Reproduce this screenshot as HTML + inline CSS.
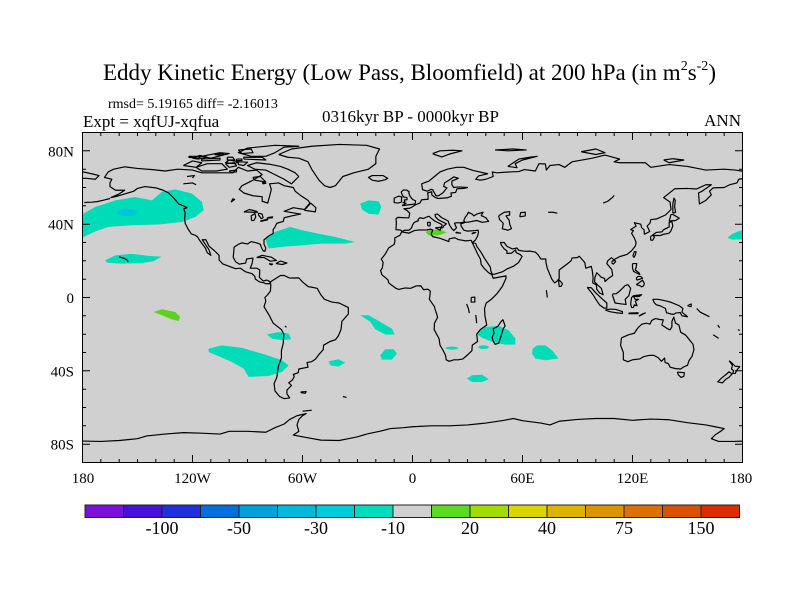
<!DOCTYPE html>
<html><head><meta charset="utf-8"><style>
html,body{margin:0;padding:0;background:#fff;}
svg{display:block;}
text{font-family:"Liberation Serif",serif;fill:#000;}
</style></head><body>
<svg width="800" height="600" viewBox="0 0 800 600" xmlns="http://www.w3.org/2000/svg">
<rect width="800" height="600" fill="#fff"/>
<defs><clipPath id="mc"><rect x="82.5" y="132.5" width="660" height="330"/></clipPath></defs>

<!-- Titles -->
<text x="103" y="80" font-size="23">Eddy Kinetic Energy (Low Pass, Bloomfield) at 200 hPa (in m<tspan dy="-10" font-size="14">2</tspan><tspan dy="10" font-size="23">s</tspan><tspan dy="-10" font-size="14">-2</tspan><tspan dy="10" font-size="23">)</tspan></text>
<text x="108" y="108" font-size="14">rmsd= 5.19165 diff= -2.16013</text>
<text x="83" y="127" font-size="17">Expt = xqfUJ-xqfua</text>
<text x="322" y="122" font-size="17">0316kyr BP - 0000kyr BP</text>
<text x="741" y="126" font-size="17" text-anchor="end">ANN</text>

<!-- Map -->
<rect x="82.5" y="132.5" width="660" height="330" fill="#d0d0d0"/>
<g clip-path="url(#mc)">
<g transform="translate(412.5,297.5) scale(1.83333,-1.83333)">
<!-- patches -->
<g fill="#00dcb8" stroke="none">
<polygon points="-182,46 -179.4,45.8 -173,49.4 -162.1,53 -151.2,54.8 -142.1,53 -136.7,57.6 -129.4,59 -120.3,56.7 -114.8,52.1 -113.9,47.6 -118.5,43.9 -125.8,41.2 -138.5,39.8 -153,39.4 -165.8,38.5 -173,36.1 -179.4,33 -182,32.5"/>
<polygon points="171.8,32.5 174.5,34.8 178,36.2 182,37 182,31.8 174.5,31.6"/>
<polygon points="-167.6,20.3 -162.1,23 -153,23.8 -143.9,22.7 -137,22.3 -141.2,19.8 -147.6,18.8 -158.5,18.5 -166.7,19"/>
<polygon points="-80.3,32.1 -74.8,35.8 -66.7,38.5 -60.3,36.7 -53,35.2 -42.1,33 -31.2,30.3 -36.7,29.4 -49.4,29.4 -60.3,28.5 -71.2,27.6 -78.5,26.7"/>
<polygon points="-28.5,51.2 -23.9,53 -18.5,52.5 -17,49.4 -18.5,45.2 -23.9,45.7 -27.6,48.1"/>
<polygon points="-79.4,-20.1 -73,-18.8 -67.6,-19.7 -66.1,-22.8 -71.2,-23.3 -76.7,-22.4"/>
<polygon points="-111.2,-27.9 -104,-26.1 -93,-27.5 -82.1,-30.6 -71.2,-34.2 -67.6,-37 -71.2,-40.6 -78.5,-42.8 -89.4,-43.3 -92.1,-38.8 -98.5,-35.2 -107.6,-31.2 -111.2,-29.7"/>
<polygon points="-45.8,-34.8 -40.3,-33.7 -36.7,-35.5 -40.3,-37.7 -44.8,-37"/>
<polygon points="-28.5,-9.7 -23.9,-9.7 -17.6,-13.3 -11.2,-17 -9.7,-20.2 -14.8,-20.2 -20.3,-17.3 -23,-13.3"/>
<polygon points="-17.6,-31.5 -14.8,-28.2 -10.3,-28.2 -8.5,-30.6 -11.2,-33.9 -16.7,-33.9"/>
<polygon points="36.1,-18.8 39.7,-16.1 47,-15.5 52.5,-17.9 56.1,-22.4 56.1,-25.7 50.6,-25.7 43.4,-24.2 37.9,-21.9 35.2,-20.2"/>
<polygon points="65.5,-27.9 67.9,-26.1 72.5,-26.1 76.1,-28.8 79.7,-33.3 72.5,-34.2 67,-33.3 65.2,-30.6"/>
<polygon points="29.7,-44.2 32.5,-42.4 37.9,-42.1 41.6,-44.6 37.9,-46.1 32.5,-46.1"/>
<ellipse cx="21.5" cy="-27.6" rx="3.5" ry="0.8"/>
<ellipse cx="38.8" cy="-27.1" rx="2.9" ry="1"/>
</g>
<ellipse cx="-155.8" cy="46.3" rx="5.5" ry="1.9" fill="#00c4d8"/>
<g fill="#5ad21e">
<polygon points="-141.2,-7.9 -136.7,-6.4 -129.4,-7.9 -126.7,-10.6 -127.6,-12.8 -131.2,-11.9 -136.7,-9.7"/>
<polygon points="7,35.8 10.6,37.2 16.1,36.7 18.8,35.4 14.3,33.9 8.8,33.9"/>
</g>

<!-- coastlines -->
<g fill="none" stroke="#000" stroke-width="1.2" stroke-linejoin="round">
<polyline vector-effect="non-scaling-stroke" points="-166,68.5 -163,70 -157,71.3 -150,70.4 -141,69.7 -135,69 -128,70 -120,69.5 -115,68 -108,68 -98,68 -95,71 -90,69 -85,69.5 -82,67 -87,64 -93,61 -94.5,59 -92,57 -87,55.5 -82,55 -82,52.5 -79,51.5 -78,55 -77,59 -78,62 -73,62.5 -70,61 -65,60 -64,58 -61.5,56 -57,53 -56,51.5 -59,48 -65,49 -70,47 -64,46 -61,45.5 -66,44.5 -70,43.5 -70.5,41.5 -74,40.5 -75,38.5 -76,37 -76,35 -78,33.8 -81,31.5 -81,29 -80,27 -80.5,25.2 -81.5,25.5 -82.5,27.5 -83,29 -85,29.8 -88,30.5 -90,29.2 -93,29.8 -95,29 -97.3,27.5 -97.5,25 -97.8,22 -96.5,19.5 -94.5,18.2 -91,18.8 -90.5,21 -87,21.5 -87.5,18.5 -88.5,16 -85,16 -83.3,15 -83.5,11 -81.5,9 -79.5,9.5 -77.5,8.5 -78,7.5 -80,7.5 -81,8 -83.5,8.5 -85.7,10 -86,11.5 -87.5,13 -91,14 -94,16 -96.5,15.7 -100,17 -103.5,18.3 -105.5,20.5 -105.5,23 -108,25.5 -111,28 -112.7,31.5 -114.7,31.5 -113,29 -111,26 -110,23 -112,24.5 -113,27 -114.5,29 -116,31 -117.2,33 -118.5,34 -120.6,34.6 -122.5,37.5 -124,40.5 -124.3,43 -124,46 -124.7,48.4 -123,49 -125,50 -127.5,51 -130,54 -133,57 -136,58.5 -140,59.8 -146,60.5 -150,59.5 -152,58 -157,56.5 -162,55 -164.5,54.5 -160,56.5 -157,58.5 -162,58.5 -165,60.5 -165,62.5 -164,64.5 -168,65.5 -166,68.5"/>
<polyline vector-effect="non-scaling-stroke" points="-73,78 -66,81 -55,82.5 -40,83.5 -25,83 -18,81 -20,77 -20,73 -24,70 -32,68 -38,66 -42,61 -45,60 -48,61 -51,64 -53,67 -55,70 -57,74 -62,76 -68,76.5 -73,78"/>
<polyline vector-effect="non-scaling-stroke" points="-62,66 -64,68 -68,70 -72,71.5 -78,72.7 -85,73.5 -90,72 -86,70 -80,69.5 -76,67.5 -73,66 -70,64.5 -66,62 -62,66"/>
<polyline vector-effect="non-scaling-stroke" points="-118,71 -112,73 -104,73 -101,70 -107,69 -115,69 -118,71"/>
<polyline vector-effect="non-scaling-stroke" points="-80,77 -75,79 -70,82 -62,82.5 -75,83 -90,81.5 -95,79 -88,77 -80,77"/>
<polyline vector-effect="non-scaling-stroke" points="-125,72 -120,74.5 -115,73.5 -118,71 -125,72"/>
<polyline vector-effect="non-scaling-stroke" points="-92,75.5 -80,75 -82,76.5 -92,76.5 -92,75.5"/>
<polyline vector-effect="non-scaling-stroke" points="-110,76 -100,78.5 -105,79 -115,77 -110,76"/>
<polyline vector-effect="non-scaling-stroke" points="-100,75 -95,74 -97,73 -102,73.5 -100,75"/>
<polyline vector-effect="non-scaling-stroke" points="-120,76 -116,77.5 -112,76.5 -117,75.5 -120,76"/>
<polyline vector-effect="non-scaling-stroke" points="-115,75.5 -105,76 -105,75 -115,74.5 -115,75.5"/>
<polyline vector-effect="non-scaling-stroke" points="-122,77 -115,77 -117,76 -122,76.5 -122,77"/>
<polyline vector-effect="non-scaling-stroke" points="-101,76.5 -98,76.5 -97,75 -101,75 -101,76.5"/>
<polyline vector-effect="non-scaling-stroke" points="-96,75.5 -93,75.5 -93,74.7 -96,74.7 -96,75.5"/>
<polyline vector-effect="non-scaling-stroke" points="-95,74 -90,73.8 -92,72 -95,72.5 -95,74"/>
<polyline vector-effect="non-scaling-stroke" points="-102,73 -97,73.5 -96,71.8 -100,71 -102,73"/>
<polyline vector-effect="non-scaling-stroke" points="-100,69 -96,69.5 -96,68.5 -99,68.2 -100,69"/>
<polyline vector-effect="non-scaling-stroke" points="-95,80.5 -88,81 -87,79 -93,78.5 -95,80.5"/>
<polyline vector-effect="non-scaling-stroke" points="-108,78 -103,78.5 -104,77.5 -108,78"/>
<polyline vector-effect="non-scaling-stroke" points="-86,64 -80,63 -83,66 -87,65.5 -86,64"/>
<polyline vector-effect="non-scaling-stroke" points="-82,62.8 -80,62.3 -81.5,62 -82,62.8"/>
<polyline vector-effect="non-scaling-stroke" points="-59,47.6 -53,46.7 -52.7,49 -55.5,51.5 -59,47.6"/>
<polyline vector-effect="non-scaling-stroke" points="-85,21.8 -82,23 -77,22 -74.2,20.2 -77.5,19.8 -81,21.8 -85,21.8"/>
<polyline vector-effect="non-scaling-stroke" points="-74.5,18.5 -72,19.9 -68.5,18.8 -71,18 -74.5,18.5"/>
<polyline vector-effect="non-scaling-stroke" points="-78.3,18.4 -76.3,18.2 -77,17.8 -78.3,18.4"/>
<polyline vector-effect="non-scaling-stroke" points="-160,22.2 -157.8,21.5 -156,20.7 -155,19.5"/>
<polyline vector-effect="non-scaling-stroke" points="-179,51.8 -175,52 -172,52.3 -168,53.2 -165,54"/>
<polyline vector-effect="non-scaling-stroke" points="-92,46.7 -89,48 -85,47 -84.5,46.5 -87,46.5 -92,46.7"/>
<polyline vector-effect="non-scaling-stroke" points="-87.8,42 -88,44.5 -86,45.8 -85.5,44 -86.5,42 -87.8,42"/>
<polyline vector-effect="non-scaling-stroke" points="-84,46 -82,45.5 -81.5,43.5 -82.5,43 -84,45 -84,46"/>
<polyline vector-effect="non-scaling-stroke" points="-83,41.7 -79,42.8 -79,42.4 -83,41.4"/>
<polyline vector-effect="non-scaling-stroke" points="-79.5,43.3 -76.5,43.5 -76.3,44 -79,43.6"/>
<polyline vector-effect="non-scaling-stroke" points="-99,52 -97,53.5 -98,53.8 -99,52"/>
<polyline vector-effect="non-scaling-stroke" points="-125,62 -120,62.5 -118,61.5"/>
<polyline vector-effect="non-scaling-stroke" points="-123,66 -119,66.5 -120,65.2"/>
<!-- South America -->
<polyline vector-effect="non-scaling-stroke" points="-77.5,8.5 -76,9.5 -72,12 -70,12 -67,10.6 -62,10.7 -60,8.5 -57,6 -52,5 -50,1.5 -48,-1 -44,-2.5 -40,-3 -35,-5.5 -35,-9 -38.5,-13 -39,-17.5 -40.5,-21 -42,-23 -45,-24 -48.5,-26 -48.7,-28.5 -51,-31 -53,-33.7 -55,-35 -57.5,-35.5 -57,-38 -62,-39 -62.3,-41 -65,-42 -64.5,-43 -65.5,-45 -67.5,-46.5 -66,-48 -68.5,-50.5 -68.5,-52.5 -67,-54.8 -70,-55.2 -72.5,-54 -75,-51 -75.5,-47 -74,-43.5 -73.5,-40 -73,-37 -71.5,-33 -71.5,-29 -70.5,-25 -70.2,-20 -71.5,-17.5 -76,-14 -78,-10 -79.8,-7 -81,-5 -80,-2 -80.5,0 -79,1.5 -77.5,3.5 -77.3,6.5 -77.5,8.5"/>
<polyline vector-effect="non-scaling-stroke" points="-61,-51.5 -58,-51.3 -58.5,-52.2 -60.5,-52 -61,-51.5"/>
<polyline vector-effect="non-scaling-stroke" points="-69.5,-15.5 -68.8,-16.3"/>
<!-- Eurasia -->
<polyline vector-effect="non-scaling-stroke" points="-5.6,36 -6.5,36.8 -9,37 -8.8,41 -9,43 -8,43.7 -2,43.4 -1.5,46 -3,47.5 -4.7,48.4 -1.5,48.7 0,49.5 1.5,50.5 4,51.5 5,53.3 8.5,53.6 8.5,55.5 8.2,57 10.5,57.7 10.5,56 12.5,54.5 14,54 19,54.4 21.2,55.2 21,57 23.5,57.3 24.3,59.3 28,59.5 30,60 25,60.3 22.5,60 21.5,61.5 21.5,63.5 25,65 22.5,65.8 21,64.7 17.5,62.5 17,60.6 18.8,59.8 16.5,57 14.2,55.5 12.8,55.5 11,58.8 10.3,59 8,58 5.5,58.8 5,62 9,63.5 12,66 15,68.5 19,70 24,71 28,71 31,70 33,69.3 41,67.5 36,66.3 34.5,64.5 37,64 40,64.5 44,66 43.5,68.5 46,68 53,68.5 58,68.7 61,69.8 67,69 69,73 72.5,72.8 73,69.5 75,72 80,72.5 83,71 87,74 98,76 105,77.7 113,75.5 110,74 113,73.5 127,73.5 130,71 140,72.5 150,71.5 160,69.5 170,70 176,69.5 181,68.8"/>
<polyline vector-effect="non-scaling-stroke" points="-181,68.8 -175,67.5 -171,66.5 -173,64.5 -178,65 -181,65"/>
<polyline vector-effect="non-scaling-stroke" points="181,65 178,64.5 177,62.5 173,61.5 170,60 164,59.8 162,58 163,56 160,53 156.5,51 156,57 158,58 163,61.5 160,61.5 155,59.2 150,59.5 143,59.3 137,54.5 140.5,52 141,48 138,45 133,42.8 130,42.5 129.5,40.5 128,39 129.4,36 126.5,34.5 126.3,37 125,38 124.5,40 121,40.8 122,39 119,37 120.5,36.5 119.5,35 121,32.5 122,30 121.5,28 119.5,25.5 117,23.5 113,22.3 110.5,21 110,20.5 108.5,21.7 106.5,20 106,18.5 108.7,15.3 109.2,12 107,10.5 105,8.7 104.8,10.4 103,11 100.5,13.5 99.5,11 99.3,8.5 101,6.8 103,5 104,1.5 102,2.5 100.5,4.5 100.3,6.8 98.3,8 98.5,11 98,15 97.5,17 94.5,16 94,19 92.3,21 91,22.5 90,21.8 87,21.5 86.5,20 84,18 82,16.5 80,15 80,10.5 79,9 77.5,8 76,10 74.8,12.8 73.5,16 72.8,19 72.7,21 70,21 68.5,23.3 67,24.8 64,25.3 61.5,25.2 58,25.7 57,27 54.5,26.5 51.5,27.9 50,30 48,30 48.5,28.5 50,26.5 51.5,25.5 51.5,24 54,24.2 56.3,26 56.5,24.5 58.7,23.5 59.8,22.4 57.8,19 55,17 52,15.8 49,14 45,12.8 43.5,12.6 42.7,14.5 42.5,16.5 39.2,21.5 37.5,24.5 35,28 34.5,29.5 32.6,29.9 34.3,31.3 35.5,33.5 36,35.5 35.8,36.7 34,36.5 30,36.2 28,36.7 26.5,39 26.4,40.2 29,41 31,41.2 35,42 38,41 41.5,41.5 40,43.5 37.5,44.7 38.5,46.5 35,45.5 33.5,44.5 32.5,45.5 30.5,46.5 29.7,45 28.6,43.5 28,42 28.5,41.2 26,40.7 24,40.8 22.9,40.5 24,38 22.5,36.5 21.5,37.5 20.2,39.5 19.4,41.8 16,43.5 13.6,45.5 12.3,45.3 12.5,44 14,42.5 16,41.4 18.5,40.2 17,39 16.5,38 15.7,38 16.2,39.5 15.5,40.1 14,40.8 12,41.8 10.5,43 9,44.3 7.5,43.8 6,43.1 4,43.5 3,42.5 3.2,41.9 1,41 0,39.5 -0.3,38.5 -0.8,37.6 -2,36.7 -4.4,36.7 -5.6,36"/>
<!-- Africa -->
<polyline vector-effect="non-scaling-stroke" points="-5.9,35.8 -2,35.1 1,36.5 3,36.8 8,36.9 10,37.3 11,36.8 10.2,34.5 11,33.2 15,32.3 19.8,30.5 20,32 23,32.6 25,31.6 29,30.9 32,31.2 32.6,29.9 33.5,28 35.5,23.8 37,21 37.5,18 39,16 41.5,13.5 43.3,12.5 44,10.5 51,11.8 51,10.5 49,6 46,2 43,-1 40.2,-3 39.3,-6 39.5,-10 40.5,-15 37,-17.5 35,-20 35.5,-24 32.6,-26 32.4,-29 30,-31.3 27.5,-33.5 25,-34 22.5,-34 20,-34.8 18.4,-34 18,-31.5 16.5,-28.5 15,-26 14.5,-22.5 11.8,-17.5 12,-14 13.7,-10.8 13,-8.5 12.2,-6 12,-5 9.2,-1 9.5,1 9.7,3.5 8.5,4.5 6,4.3 4.5,6.4 2,6.3 -1,5 -4,5.2 -7.5,4.4 -9,5 -11.5,6.8 -13,8 -13.3,9.5 -15,11 -16.7,12.4 -17.4,14.7 -16.5,16 -16,19 -17,21 -15,23.5 -13,27 -10,29 -9.6,30.5 -9.7,32.5 -6.8,34 -5.9,35.8"/>
<polyline vector-effect="non-scaling-stroke" points="49.3,-12 50.5,-15.5 49.5,-17 48,-22 47,-25 45,-25.5 43.7,-23 43.5,-21.5 44.5,-19.5 44,-17 46.5,-15.8 48,-13.6 49.3,-12"/>
<polyline vector-effect="non-scaling-stroke" points="32,0 34,0.2 34,-2.5 32,-2.5 32,0"/>
<polyline vector-effect="non-scaling-stroke" points="29.5,-3.5 30.5,-6 31,-8.5"/>
<polyline vector-effect="non-scaling-stroke" points="34.5,-9.5 34.8,-12 35,-14"/>
<!-- seas / lakes -->
<polyline vector-effect="non-scaling-stroke" points="47,44.5 50,46.5 53,46.8 53,45 51,44.5 52.8,42 53,40 54,37.5 52,36.7 49,37.5 49.5,40.5 47.5,42.5 47,44.5"/>
<polyline vector-effect="non-scaling-stroke" points="58.5,44 61.5,44.5 61.5,46.5 59,46.3 58.5,44"/>
<polyline vector-effect="non-scaling-stroke" points="104,51.5 106.5,52.5 109,54.5 110,55.7"/>
<polyline vector-effect="non-scaling-stroke" points="74,46.5 76.5,46.5 79,46"/>
<!-- European islands -->
<polyline vector-effect="non-scaling-stroke" points="-5.7,50.1 1.4,51 1.7,52.7 0,53.5 -1.5,55.5 -2,57 -1.8,57.7 -3.2,58.6 -5,58.6 -6.2,57.5 -5.6,56 -4.8,54.8 -3,54.5 -3,53.3 -4.5,53.2 -4.2,52.3 -5.2,51.7 -3.5,51.4 -5.7,50.1"/>
<polyline vector-effect="non-scaling-stroke" points="-6,52 -6,53.7 -5.7,54.8 -7.5,55.3 -10,54.2 -10,51.8 -8,51.5 -6,52"/>
<polyline vector-effect="non-scaling-stroke" points="-22,64 -24,65.5 -22,66.5 -16,66.5 -13.5,65 -15,64.2 -18.5,63.4 -22,64"/>
<polyline vector-effect="non-scaling-stroke" points="11,78.5 15,80 22,80.3 27,80 20,78.2 16,76.7 12,78 11,78.5"/>
<polyline vector-effect="non-scaling-stroke" points="45,80.5 55,81 62,80.5 52,80 45,80.5"/>
<polyline vector-effect="non-scaling-stroke" points="52,71.5 55,73.5 58,75.5 64,76.5 68,77 60,75 56,73 57,70.8 52,71.5"/>
<polyline vector-effect="non-scaling-stroke" points="92,79.5 100,81 105,79 100,78 92,79.5"/>
<polyline vector-effect="non-scaling-stroke" points="137,75 142,75.7 148,75 140,73.5 137,75"/>
<polyline vector-effect="non-scaling-stroke" points="12.4,38 15.6,38.3 15.1,36.7 12.4,38"/>
<polyline vector-effect="non-scaling-stroke" points="8.4,39 9.6,39.1 9.7,41 8.2,41 8.4,39"/>
<polyline vector-effect="non-scaling-stroke" points="23.5,35.3 26.3,35.1 24,35.6 23.5,35.3"/>
<polyline vector-effect="non-scaling-stroke" points="32.3,34.7 34.5,35.5 33,35.3 32.3,34.7"/>
<!-- Asia islands -->
<polyline vector-effect="non-scaling-stroke" points="130.9,34 133,35.5 136,35.8 137,37 140,38.5 140,41 141.5,41.3 142,39 140.8,36 139.8,35 137,34.5 135,33.8 132,33.8 130.9,34"/>
<polyline vector-effect="non-scaling-stroke" points="140,41.5 141,45.3 142,45.3 145.5,43.3 143.5,42 141,41.8 140,41.5"/>
<polyline vector-effect="non-scaling-stroke" points="129.8,33.2 131,34 132,33 131,31.2 130,31.3 129.8,33.2"/>
<polyline vector-effect="non-scaling-stroke" points="142,46 143.5,46.5 143,49.5 143.3,53 142.6,54.2 142,51 142,46"/>
<polyline vector-effect="non-scaling-stroke" points="120.2,22.6 121,25 122,25 121.5,23 120.8,21.9 120.2,22.6"/>
<polyline vector-effect="non-scaling-stroke" points="108.6,19 109.5,18.2 110.8,19.5 110.5,20.1 109,20 108.6,19"/>
<polyline vector-effect="non-scaling-stroke" points="120,18.5 122.3,18.5 122,16.5 121.5,15 123.5,13.5 124,12.5 122,13.5 120.6,14.2 120,16 120,18.5"/>
<polyline vector-effect="non-scaling-stroke" points="122,7 123.5,8 125.5,9.5 126.5,7.5 126,6.3 125,5.8 124,6.5 122,7"/>
<polyline vector-effect="non-scaling-stroke" points="122,10.5 123,11.5 124.5,11.5 125.5,10.5 124,10 122.5,9.5 122,10.5"/>
<polyline vector-effect="non-scaling-stroke" points="109,1.5 110,-1.5 110.5,-3 114,-3.5 116.5,-3.8 116,-1 118,1 119,5 117.5,7 116,6.5 113,3.5 111,2 109.5,2 109,1.5"/>
<polyline vector-effect="non-scaling-stroke" points="95.3,5.5 97.5,5.3 100,2.5 103.7,-1 106,-3 106,-5.8 104.5,-5.8 102,-4 100,-1 98.5,1.5 95.3,5.5"/>
<polyline vector-effect="non-scaling-stroke" points="105.2,-6.8 108,-6.3 111,-6.5 114.5,-7.7 114.5,-8.7 111,-8.3 108,-7.8 105.5,-7 105.2,-6.8"/>
<polyline vector-effect="non-scaling-stroke" points="119.5,-5.5 119,-3.5 119.5,0 120.5,1 125,1.5 123.5,0.5 120.5,0.5 121.5,-1 123.3,-1 121.5,-2 122.5,-4.5 121,-4 120.5,-5.5 119.5,-5.5"/>
<polyline vector-effect="non-scaling-stroke" points="131,-1 134,-1 138,-1.8 141,-2.6 145.5,-4.5 147.5,-6 147,-8 150,-10.5 147,-10 146,-8.2 143.5,-8.5 142.5,-9.2 141,-9 138.5,-8.3 138,-6 135,-4.5 133,-4 132,-3 131,-1"/>
<polyline vector-effect="non-scaling-stroke" points="118,-8.5 123,-8.3 123,-8.8 118,-8.8 118,-8.5"/>
<polyline vector-effect="non-scaling-stroke" points="123.5,-10.2 127,-8.4 125,-9.2 123.5,-10.2"/>
<polyline vector-effect="non-scaling-stroke" points="150,-4.5 152,-5 152,-3.5 150,-4.5"/>
<polyline vector-effect="non-scaling-stroke" points="155,-6 157,-8 160,-9.5 162,-10.5"/>
<polyline vector-effect="non-scaling-stroke" points="166.5,-15 167.5,-16.5"/>
<polyline vector-effect="non-scaling-stroke" points="164,-20.3 167,-22.3"/>
<polyline vector-effect="non-scaling-stroke" points="177.5,-17.5 178.5,-18"/>
<polyline vector-effect="non-scaling-stroke" points="79.8,9.8 81.8,7.5 81.2,6.2 80,6 79.8,8 79.8,9.8"/>
<polyline vector-effect="non-scaling-stroke" points="73,4 73.3,2 73.5,0"/>
<!-- Australia / NZ -->
<polyline vector-effect="non-scaling-stroke" points="114,-22 113.5,-26 115,-30 115,-34 117.5,-35 120,-34 124,-33.5 126,-32.3 129,-31.6 131.5,-31.5 134,-32.8 135.8,-34.8 137.5,-33 137.8,-35.5 139.5,-36 140.5,-38 143.5,-38.8 146.3,-39 148,-37.8 150,-37 150.8,-34.5 152.5,-32 153.5,-28.5 153,-25.5 151,-23 149,-20.5 146.3,-19 145.3,-15 143.5,-14 142.5,-10.7 141.5,-13 141.5,-16 140.5,-17.6 139,-17 136,-15 136.8,-12.2 135,-12 132.5,-11.5 130.5,-12.5 129.5,-14.5 127.5,-14 125,-14.6 123,-16.5 121,-19.5 118,-20.3 114,-22"/>
<polyline vector-effect="non-scaling-stroke" points="144.5,-40.7 148.3,-41 148,-43 146.5,-43.6 145,-42.2 144.5,-40.7"/>
<polyline vector-effect="non-scaling-stroke" points="172.7,-34.5 174.5,-36 176,-37.5 178.5,-37.7 177,-39.5 176,-41.5 174.7,-41.3 175.2,-40 174,-39 174.5,-37 172.7,-34.5"/>
<polyline vector-effect="non-scaling-stroke" points="172.7,-40.5 174.3,-41.7 172.7,-43.5 171,-44.5 169,-46.6 166.5,-46 168.5,-44 171,-42 172.7,-40.5"/>
<!-- Antarctica -->
<polyline vector-effect="non-scaling-stroke" points="-181,-78.3 -170,-78.5 -160,-78 -150,-77 -145,-75.5 -135,-74.5 -125,-73.7 -115,-74 -105,-74.5 -100,-73 -90,-73 -80,-73.5 -75,-71 -70,-69 -67,-66.5 -63,-64.5 -58,-63.3 -60,-64.5 -62,-66.5 -63,-69.5 -62,-73 -65,-75 -60,-76 -50,-77.8 -40,-78 -35,-77 -30,-76 -25,-74.5 -18,-73 -12,-71.5 -5,-71 0,-70.5 10,-70 20,-70 30,-69.5 35,-69 40,-68.5 50,-67 55,-66 60,-67.2 70,-68.5 75,-69.5 80,-67.5 90,-66.5 100,-66 110,-66 120,-67 130,-66.3 140,-66.7 150,-68.3 160,-69.5 165,-70.5 170,-71.5 168,-73 165,-75 163,-77 167,-78.5 175,-78.5 181,-78.3"/>
<polyline vector-effect="non-scaling-stroke" points="-60,-62 -55,-61.5"/>
<polyline vector-effect="non-scaling-stroke" points="-38,-54 -36,-54.5"/>
</g>
</g>
</g>
<rect x="82.5" y="132.5" width="660" height="330" fill="none" stroke="#000" stroke-width="1"/>

<!-- ticks -->
<g stroke="#000" stroke-width="1" fill="none">
<path d="M100.8,462.5v-3.5M119.2,462.5v-3.5M137.5,462.5v-3.5M155.8,462.5v-3.5M174.2,462.5v-3.5M192.5,462.5v-7.5M210.8,462.5v-3.5M229.2,462.5v-3.5M247.5,462.5v-3.5M265.8,462.5v-3.5M284.2,462.5v-3.5M302.5,462.5v-7.5M320.8,462.5v-3.5M339.2,462.5v-3.5M357.5,462.5v-3.5M375.8,462.5v-3.5M394.2,462.5v-3.5M412.5,462.5v-7.5M430.8,462.5v-3.5M449.2,462.5v-3.5M467.5,462.5v-3.5M485.8,462.5v-3.5M504.2,462.5v-3.5M522.5,462.5v-7.5M540.8,462.5v-3.5M559.2,462.5v-3.5M577.5,462.5v-3.5M595.8,462.5v-3.5M614.2,462.5v-3.5M632.5,462.5v-7.5M650.8,462.5v-3.5M669.2,462.5v-3.5M687.5,462.5v-3.5M705.8,462.5v-3.5M724.2,462.5v-3.5"/>
<path d="M100.8,132.5v3.5M119.2,132.5v3.5M137.5,132.5v3.5M155.8,132.5v3.5M174.2,132.5v3.5M192.5,132.5v7.5M210.8,132.5v3.5M229.2,132.5v3.5M247.5,132.5v3.5M265.8,132.5v3.5M284.2,132.5v3.5M302.5,132.5v7.5M320.8,132.5v3.5M339.2,132.5v3.5M357.5,132.5v3.5M375.8,132.5v3.5M394.2,132.5v3.5M412.5,132.5v7.5M430.8,132.5v3.5M449.2,132.5v3.5M467.5,132.5v3.5M485.8,132.5v3.5M504.2,132.5v3.5M522.5,132.5v7.5M540.8,132.5v3.5M559.2,132.5v3.5M577.5,132.5v3.5M595.8,132.5v3.5M614.2,132.5v3.5M632.5,132.5v7.5M650.8,132.5v3.5M669.2,132.5v3.5M687.5,132.5v3.5M705.8,132.5v3.5M724.2,132.5v3.5"/>
<path d="M82.5,150.8h7.5M82.5,169.2h3.5M82.5,187.5h3.5M82.5,205.8h3.5M82.5,224.2h7.5M82.5,242.5h3.5M82.5,260.8h3.5M82.5,279.2h3.5M82.5,297.5h7.5M82.5,315.8h3.5M82.5,334.2h3.5M82.5,352.5h3.5M82.5,370.8h7.5M82.5,389.2h3.5M82.5,407.5h3.5M82.5,425.8h3.5M82.5,444.2h7.5"/>
<path d="M742.5,150.8h-7.5M742.5,169.2h-3.5M742.5,187.5h-3.5M742.5,205.8h-3.5M742.5,224.2h-7.5M742.5,242.5h-3.5M742.5,260.8h-3.5M742.5,279.2h-3.5M742.5,297.5h-7.5M742.5,315.8h-3.5M742.5,334.2h-3.5M742.5,352.5h-3.5M742.5,370.8h-7.5M742.5,389.2h-3.5M742.5,407.5h-3.5M742.5,425.8h-3.5M742.5,444.2h-7.5"/>
</g>

<!-- axis labels -->
<g font-size="15" text-anchor="end">
<text x="74" y="156.3">80N</text>
<text x="74" y="229.7">40N</text>
<text x="74" y="303">0</text>
<text x="74" y="376.3">40S</text>
<text x="74" y="449.7">80S</text>
</g>
<g font-size="15" text-anchor="middle">
<text x="83" y="483">180</text>
<text x="192.5" y="483">120W</text>
<text x="302.5" y="483">60W</text>
<text x="412.5" y="483">0</text>
<text x="522.5" y="483">60E</text>
<text x="632.5" y="483">120E</text>
<text x="741" y="483">180</text>
</g>

<!-- colorbar -->
<g stroke="#222" stroke-width="1">
<rect x="85" y="505" width="38.5" height="12.5" fill="#7a10dc"/>
<rect x="123.5" y="505" width="38.5" height="12.5" fill="#4610d8"/>
<rect x="162" y="505" width="38.5" height="12.5" fill="#2030dc"/>
<rect x="200.5" y="505" width="38.5" height="12.5" fill="#0070dc"/>
<rect x="239" y="505" width="38.5" height="12.5" fill="#00a0dc"/>
<rect x="277.5" y="505" width="38.5" height="12.5" fill="#00b8dc"/>
<rect x="316" y="505" width="38.5" height="12.5" fill="#00ccdc"/>
<rect x="354.5" y="505" width="38.5" height="12.5" fill="#00dcbc"/>
<rect x="393" y="505" width="38.5" height="12.5" fill="#d0d0d0"/>
<rect x="431.5" y="505" width="38.5" height="12.5" fill="#5adc1e"/>
<rect x="470" y="505" width="38.5" height="12.5" fill="#a0dc00"/>
<rect x="508.5" y="505" width="38.5" height="12.5" fill="#dcd400"/>
<rect x="547" y="505" width="38.5" height="12.5" fill="#dcb400"/>
<rect x="585.5" y="505" width="38.5" height="12.5" fill="#dc9400"/>
<rect x="624" y="505" width="38.5" height="12.5" fill="#dc7000"/>
<rect x="662.5" y="505" width="38.5" height="12.5" fill="#dc5000"/>
<rect x="701" y="505" width="38.5" height="12.5" fill="#dc2c00"/>
</g>
<g font-size="18" text-anchor="middle">
<text x="162" y="534">-100</text>
<text x="239" y="534">-50</text>
<text x="316" y="534">-30</text>
<text x="393" y="534">-10</text>
<text x="470" y="534">20</text>
<text x="547" y="534">40</text>
<text x="624" y="534">75</text>
<text x="701" y="534">150</text>
</g>
</svg>
</body></html>
